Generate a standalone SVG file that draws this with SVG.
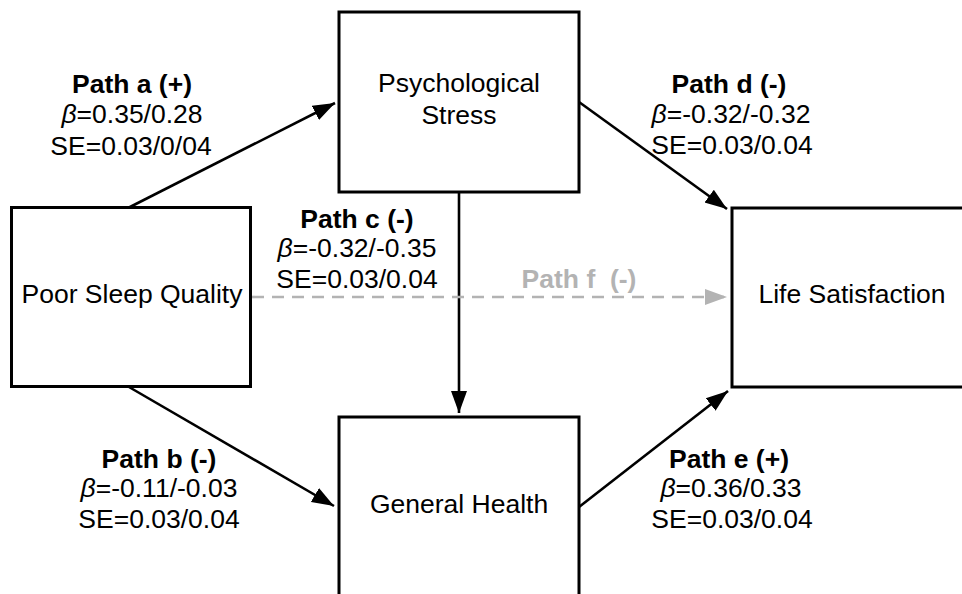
<svg xmlns="http://www.w3.org/2000/svg" width="962" height="594" viewBox="0 0 962 594">
<style>
.box{fill:#fff;stroke:#000;stroke-width:3}
.lbl{font-family:"Liberation Sans",Arial,sans-serif;font-size:26.5px;fill:#000;text-anchor:middle}
.b{font-weight:bold}
.edge{stroke:#000;stroke-width:2.6;fill:none}
.dash{stroke:#b3b3b3;stroke-width:2.6;fill:none;stroke-dasharray:12 8}
.gray{fill:#b3b3b3}
</style>
<defs>
<marker id="ah" markerUnits="userSpaceOnUse" markerWidth="23" markerHeight="18" refX="22" refY="9" orient="auto">
<path d="M0,1 L22,9 L0,17 z" fill="#000"/>
</marker>
<marker id="ahg" markerUnits="userSpaceOnUse" markerWidth="23" markerHeight="18" refX="22" refY="9" orient="auto">
<path d="M0,1 L22,9 L0,17 z" fill="#b3b3b3"/>
</marker>
</defs>
<rect width="962" height="594" fill="#fff"/>
<g id="connectors">
<line class="edge" x1="128" y1="208" x2="335" y2="103" marker-end="url(#ah)"/>
<line class="edge" x1="579" y1="102" x2="727" y2="209" marker-end="url(#ah)"/>
<line class="edge" x1="129" y1="387" x2="334" y2="506" marker-end="url(#ah)"/>
<line class="edge" x1="579" y1="507" x2="728" y2="391" marker-end="url(#ah)"/>
<line class="edge" x1="459" y1="192" x2="459" y2="413" marker-end="url(#ah)"/>
<line class="dash" x1="252" y1="297" x2="727" y2="297" marker-end="url(#ahg)"/>
</g>
<g id="node-sleep">
<rect class="box" x="11.5" y="207.5" width="239" height="179"/>
<text class="lbl" x="132" y="303">Poor Sleep Quality</text>
</g>
<g id="node-stress">
<rect class="box" x="339" y="12" width="240" height="180"/>
<text class="lbl" x="459" y="92">Psychological</text>
<text class="lbl" x="459" y="124">Stress</text>
</g>
<g id="node-life">
<rect class="box" x="732" y="208" width="240" height="179"/>
<text class="lbl" x="852" y="303">Life Satisfaction</text>
</g>
<g id="node-health">
<rect class="box" x="339" y="417" width="240" height="180"/>
<text class="lbl" x="459" y="513">General Health</text>
</g>
<g id="labels">
<text class="lbl b" x="132" y="93">Path a (+)</text>
<text class="lbl" x="132" y="123"><tspan font-style="italic">β</tspan>=0.35/0.28</text>
<text class="lbl" x="131" y="155">SE=0.03/0/04</text>
<text class="lbl b" x="729" y="93">Path d (-)</text>
<text class="lbl" x="731" y="123"><tspan font-style="italic">β</tspan>=-0.32/-0.32</text>
<text class="lbl" x="732" y="154">SE=0.03/0.04</text>
<text class="lbl b" x="357" y="228">Path c (-)</text>
<text class="lbl" x="357" y="257"><tspan font-style="italic">β</tspan>=-0.32/-0.35</text>
<text class="lbl" x="357" y="288">SE=0.03/0.04</text>
<text class="lbl b gray" x="579" y="288" xml:space="preserve">Path f  (-)</text>
<text class="lbl b" x="159" y="468">Path b (-)</text>
<text class="lbl" x="159" y="497"><tspan font-style="italic">β</tspan>=-0.11/-0.03</text>
<text class="lbl" x="159" y="528">SE=0.03/0.04</text>
<text class="lbl b" x="729" y="468">Path e (+)</text>
<text class="lbl" x="731" y="497"><tspan font-style="italic">β</tspan>=0.36/0.33</text>
<text class="lbl" x="732" y="528">SE=0.03/0.04</text>
</g>
</svg>
